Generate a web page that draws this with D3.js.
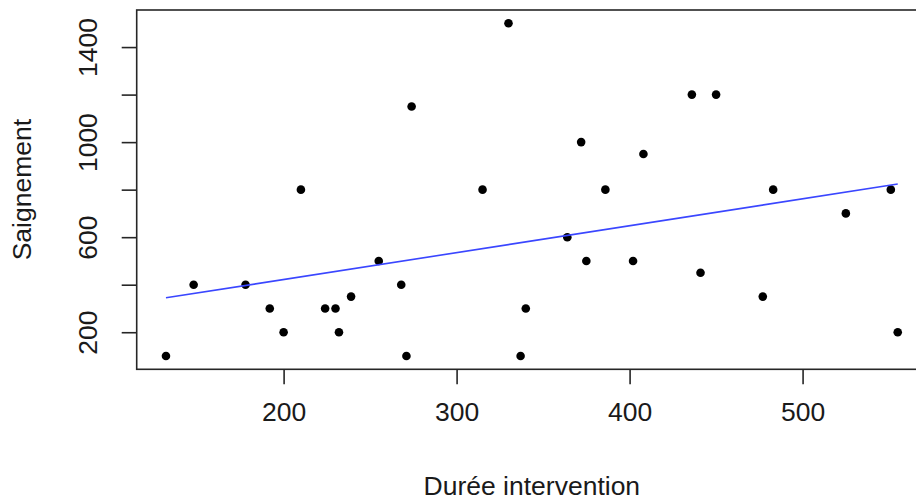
<!DOCTYPE html>
<html>
<head>
<meta charset="utf-8">
<script src="https://cdn.jsdelivr.net/npm/d3@7"></script>
<style>
  html, body { margin: 0; padding: 0; background: #fff; }
  svg { display: block; }
  text { font-family: "Liberation Sans", Arial, Helvetica, sans-serif; fill: #1a1a1a; }
</style>
</head>
<body>
<svg id="chart" width="916" height="501"></svg>
<script>
// Durée d'intervention (min) vs saignement (ml)
const duree = [210, 148, 132, 178, 192, 200, 224, 230, 232, 239, 255, 268, 330, 274, 372, 408,
               315, 386, 364, 375, 402, 340, 271, 337, 436, 450, 483, 551, 525, 441, 477, 555];
const saignement = [800, 400, 100, 400, 300, 200, 300, 300, 200, 350, 500, 400, 1500, 1150, 1000, 950,
                    800, 800, 600, 500, 500, 300, 100, 100, 1200, 1200, 800, 800, 700, 450, 350, 200];

const xTicks = [200, 300, 400, 500];
const yTicks = [200, 400, 600, 800, 1000, 1200, 1400];
const yTickLabels = [200, 600, 1000, 1400];

const xTitle = "Durée intervention";
const yTitle = "Saignement";

const svg = d3.select("#chart");
const plot = { left: 136.7, right: 927, top: 10, bottom: 369.3 };

// R-style 4% padding around the data range
function padded(values) {
  const [lo, hi] = d3.extent(values);
  const pad = (hi - lo) * 0.04;
  return [lo - pad, hi + pad];
}

const x = d3.scaleLinear().domain(padded(duree)).range([plot.left, plot.right]);
const y = d3.scaleLinear().domain(padded(saignement)).range([plot.bottom, plot.top]);

const points = duree.map((d, i) => ({ x: d, y: saignement[i] }));

// Least-squares fit
const mx = d3.mean(duree), my = d3.mean(saignement);
const sxy = d3.sum(points, p => (p.x - mx) * (p.y - my));
const sxx = d3.sum(points, p => (p.x - mx) ** 2);
const slope = sxy / sxx;
const intercept = my - slope * mx;
const [xmin, xmax] = d3.extent(duree);
const fit = [xmin, xmax].map(v => ({ x: v, y: intercept + slope * v }));

// Points
svg.append("g")
  .selectAll("circle")
  .data(points)
  .join("circle")
  .attr("cx", d => x(d.x))
  .attr("cy", d => y(d.y))
  .attr("r", 4.3)
  .attr("fill", "#000");

// Regression line
svg.append("path")
  .datum(fit)
  .attr("d", d3.line().x(d => x(d.x)).y(d => y(d.y)))
  .attr("fill", "none")
  .attr("stroke", "#3a46ff")
  .attr("stroke-width", 1.6);

// Frame
svg.append("rect")
  .attr("x", plot.left)
  .attr("y", plot.top)
  .attr("width", plot.right - plot.left)
  .attr("height", plot.bottom - plot.top)
  .attr("fill", "none")
  .attr("stroke", "#262626")
  .attr("stroke-width", 1.6);

const fontSize = 26.5;

// Bottom axis
const xAxis = svg.append("g")
  .attr("transform", `translate(0,${plot.bottom})`)
  .call(d3.axisBottom(x).tickValues(xTicks).tickSize(15).tickSizeOuter(0).tickPadding(0).tickFormat(d3.format("d")));
xAxis.select(".domain").remove();
xAxis.selectAll(".tick line").attr("stroke", "#262626").attr("stroke-width", 1.6);
xAxis.selectAll(".tick text")
  .attr("y", 52)
  .attr("dy", null)
  .style("font-size", fontSize + "px")
  .attr("font-family", null)
  .attr("fill", "#1a1a1a");

// Left axis
const yAxis = svg.append("g")
  .attr("transform", `translate(${plot.left},0)`)
  .call(d3.axisLeft(y).tickValues(yTicks).tickSize(15).tickSizeOuter(0)
    .tickFormat(d => yTickLabels.includes(d) ? d3.format("d")(d) : ""));
yAxis.select(".domain").remove();
yAxis.selectAll(".tick line").attr("stroke", "#262626").attr("stroke-width", 1.6);
yAxis.selectAll(".tick text")
  .attr("x", null)
  .attr("dy", null)
  .attr("transform", "translate(-39.7,0) rotate(-90)")
  .attr("text-anchor", "middle")
  .style("font-size", fontSize + "px")
  .attr("font-family", null)
  .attr("fill", "#1a1a1a");

// Axis titles
svg.append("text")
  .attr("x", (plot.left + plot.right) / 2)
  .attr("y", 495)
  .attr("text-anchor", "middle")
  .style("font-size", fontSize + "px")
  .text(xTitle);

svg.append("text")
  .attr("transform", `translate(31,${(plot.top + plot.bottom) / 2}) rotate(-90)`)
  .attr("text-anchor", "middle")
  .style("font-size", fontSize + "px")
  .text(yTitle);
</script>
</body>
</html>
